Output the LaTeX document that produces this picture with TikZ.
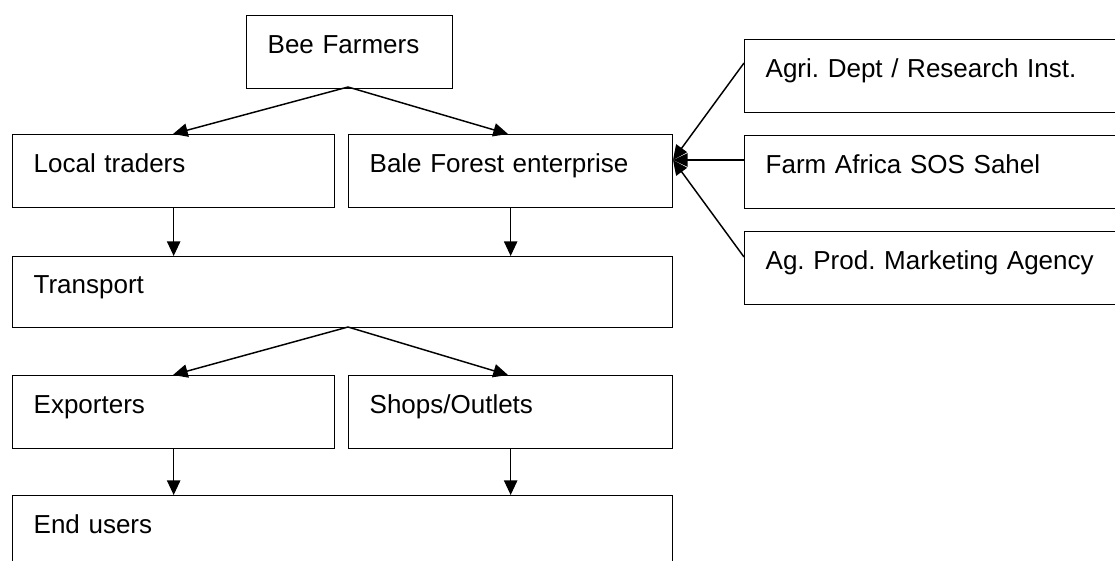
\documentclass[tikz,border=0pt]{standalone}
\usepackage{fontspec}
\setmainfont{Liberation Sans}
\usetikzlibrary{arrows.meta}
\begin{document}
\frenchspacing
\begin{tikzpicture}[x=0.75pt,y=-0.75pt,
  box/.style={draw=black, line width=1pt, anchor=north west, inner xsep=15.75pt, inner ysep=0pt,
    text height=2.25pt, text depth=0pt, align=left, minimum height=54.75pt,
    font=\fontsize{19.5}{23}\selectfont},
  arr/.style={line width=1.1pt, -{Triangle[length=11pt,width=10pt]}},
  ln/.style={line width=1.1pt}]
\useasboundingbox (0,0) rectangle (1115,561);
\clip (0,0) rectangle (1115,561);
\fill[white] (0,0) rectangle (1115,561);
% boxes
\node[box, text width=123pt] (bee) at (246,15) {Bee Farmers};
\node[box, text width=210pt] (local) at (12,134) {Local traders};
\node[box, text width=211.5pt] (bale) at (348,134) {Bale Forest enterprise};
\node[box, text width=463.5pt, minimum height=53.25pt] (transport) at (12,256) {Transport};
\node[box, text width=210pt] (exp) at (12,375) {Exporters};
\node[box, text width=211.5pt] (shops) at (348,375) {Shops/Outlets};
\node[box, text width=463.5pt] (end) at (12,495) {End users};
\node[box, text width=261pt] (agri) at (744,39) {Agri. Dept / Research Inst.};
\node[box, text width=261pt] (farm) at (744,135) {Farm Africa SOS Sahel};
\node[box, text width=261pt] (agprod) at (744,231) {Ag. Prod. Marketing Agency};
% connector points
\coordinate (beeb) at (348,87);
\coordinate (transb) at (348,327);
\coordinate (localt) at (173,134);
\coordinate (balet) at (508,134);
\coordinate (expt) at (173,375);
\coordinate (shopst) at (508,375);
\coordinate (tip) at (673,160);
\coordinate (agriw) at (744,63);
\coordinate (farmw) at (744,160);
\coordinate (agprodw) at (744,257);
% arrows
\draw[arr] (beeb) -- (localt);
\draw[arr] (beeb) -- (balet);
\draw[arr] (local.south) -- (local.south |- transport.north);
\draw[arr] (bale.south) -- (bale.south |- transport.north);
\draw[arr] (transb) -- (expt);
\draw[arr] (transb) -- (shopst);
\draw[arr] (exp.south) -- (exp.south |- end.north);
\draw[arr] (shops.south) -- (shops.south |- end.north);
\draw[arr] (agriw) -- (tip);
\draw[arr] (farmw) -- (tip);
\draw[arr] (agprodw) -- (tip);
\end{tikzpicture}
\end{document}
